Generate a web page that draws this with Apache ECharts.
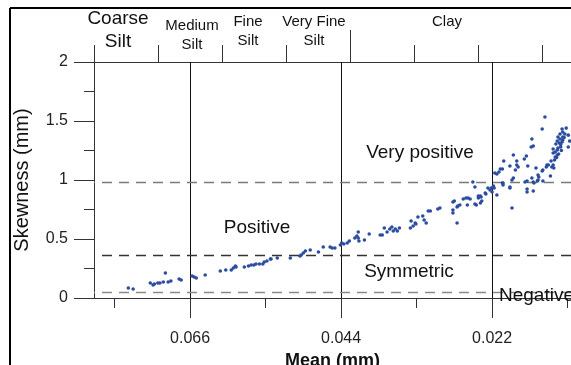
<!DOCTYPE html>
<html>
<head>
<meta charset="utf-8">
<script src="https://cdn.jsdelivr.net/npm/echarts@6/dist/echarts.min.js"></script>
<style>
html,body{margin:0;padding:0;background:#fff;}
#chart{width:571px;height:365px;}
</style>
</head>
<body>
<div id="chart"></div>
<script>
// ---- data ----
const sizeClasses = ['Coarse\nSilt', 'Medium\nSilt', 'Fine\nSilt', 'Very Fine\nSilt', 'Clay'];
const meanTicks = [0.022, 0.044, 0.066];
const meanMinorTicks = [0.011, 0.033, 0.055, 0.077];
const skewTicks = [0, 0.5, 1, 1.5, 2];
const skewBounds = [0.98, 0.36, 0.05];
const zoneNames = ['Very positive', 'Positive', 'Symmetric', 'Negative'];
const classBoundaryTicks = [0, 1, 2, 3, 4, 5, 6, 7];

const coarseSamples = [
  [0.0750,0.085],[0.0743,0.076],[0.0718,0.127],[0.0714,0.110],[0.0712,0.119],[0.0707,0.127],
  [0.0704,0.127],[0.0699,0.136],[0.0696,0.212],[0.0692,0.136],[0.0688,0.144],[0.0676,0.161],
  [0.0673,0.153],[0.0657,0.186],[0.0654,0.178],[0.0651,0.169],[0.0638,0.195],[0.0616,0.229],
  [0.0608,0.237],[0.0600,0.237],[0.0597,0.254],[0.0594,0.271],[0.0593,0.263]
];
const fineSamples = [
  [0.0581,0.263],[0.0575,0.271],[0.0571,0.280],[0.0567,0.280],[0.0564,0.288],[0.0559,0.288],
  [0.0554,0.288],[0.0552,0.305],[0.0548,0.314],[0.0543,0.331],[0.0542,0.331],[0.0533,0.339],
  [0.0514,0.339],[0.0500,0.356],[0.0498,0.364],[0.0495,0.381],[0.0492,0.398],[0.0485,0.407],
  [0.0473,0.390],[0.0466,0.432],[0.0456,0.432],[0.0453,0.424],[0.0449,0.424],[0.0441,0.449],
  [0.0439,0.466],[0.0436,0.458],[0.0431,0.466],[0.0428,0.483],[0.0420,0.508],[0.0417,0.525]
];
const claySamples = [
  [0.0415,0.559],[0.0415,0.508],[0.0414,0.483],[0.0406,0.492],[0.0399,0.542],[0.0383,0.534],
  [0.0380,0.534],[0.0377,0.593],[0.0373,0.559],[0.0369,0.585],[0.0366,0.602],[0.0364,0.568],
  [0.0361,0.585],[0.0358,0.568],[0.0355,0.593],[0.0339,0.593],[0.0338,0.653],[0.0335,0.610],
  [0.0332,0.636],[0.0331,0.627],[0.0328,0.686],[0.0321,0.695],[0.0319,0.661],[0.0316,0.636],
  [0.0313,0.737],[0.0310,0.737],[0.0299,0.754],[0.0296,0.763],[0.0277,0.814],[0.0277,0.746],
  [0.0277,0.720],[0.0271,0.636],[0.0275,0.822],[0.0271,0.771],[0.0270,0.780],[0.0267,0.788],
  [0.0262,0.839],[0.0258,0.847],[0.0256,0.788],[0.0255,0.847],[0.0252,0.839],[0.0248,0.983],
  [0.0245,0.941],[0.0245,0.797],[0.0243,0.788],[0.0240,0.864],[0.0240,0.847],[0.0237,0.864],
  [0.0237,0.805],[0.0236,0.856],[0.0235,0.822],[0.0230,0.890],[0.0229,0.881],[0.0226,0.932],
  [0.0223,0.915],[0.0221,0.932],[0.0220,0.898],[0.0218,0.949],[0.0217,0.932],[0.0213,0.873]
];
const finestSamples = [
  [0.0216,1.059],[0.0213,1.051],[0.0210,1.068],[0.0205,1.093],[0.0204,0.975],[0.0203,1.161],
  [0.0194,1.119],[0.0191,1.000],[0.0189,1.017],[0.0194,0.932],[0.0189,1.212],[0.0184,1.127],
  [0.0182,1.110],[0.0191,0.763],[0.0143,1.534],[0.0147,1.432],[0.0118,1.432],[0.0117,1.407],
  [0.0121,1.390],[0.0124,1.364],[0.0114,1.390],[0.0117,1.364],[0.0121,1.347],[0.0118,1.322],
  [0.0125,1.331],[0.0117,1.339],[0.0122,1.314],[0.0127,1.305],[0.0120,1.280],[0.0124,1.271],
  [0.0125,1.254],[0.0131,1.263],[0.0128,1.237],[0.0131,1.229],[0.0125,1.212],[0.0128,1.195],
  [0.0109,1.280],[0.0162,1.347],[0.0160,1.288],[0.0163,1.280],[0.0170,1.203],[0.0173,1.178],
  [0.0184,1.161],[0.0208,1.093],[0.0186,1.085],[0.0168,1.119],[0.0156,1.102],[0.0153,1.042],
  [0.0152,1.025],[0.0147,1.076],[0.0146,1.085],[0.0141,1.110],[0.0140,1.127],[0.0138,1.127],
  [0.0134,1.161],[0.0133,1.110],[0.0131,1.127],[0.0130,1.102],[0.0135,1.034],[0.0162,1.017],
  [0.0160,0.983],[0.0159,0.975],[0.0169,0.992],[0.0172,0.983],[0.0146,0.992],[0.0154,0.992],
  [0.0153,1.000],[0.0194,0.941],[0.0205,0.975],[0.0204,0.958],[0.0169,0.924],[0.0169,0.898],
  [0.0160,0.907],[0.0112,1.440],[0.0109,1.380],[0.0107,1.330],[0.0120,1.300],[0.0115,1.360],
  [0.0119,1.250],[0.0123,1.220],[0.0126,1.190],[0.0129,1.170]
];

// ---- chart ----
const FONT = '"Liberation Sans", Arial, sans-serif';
const chart = echarts.init(document.getElementById('chart'), null, {renderer: 'canvas'});
const allSamples = coarseSamples.concat(fineSamples, claySamples, finestSamples);

const headerPos = [
  {x: 118, y: 30.5, size: 19, lh: 23},
  {x: 192, y: 35.5, size: 15, lh: 19},
  {x: 248, y: 31.5, size: 15, lh: 19},
  {x: 314, y: 31.5, size: 15, lh: 19},
  {x: 447, y: 22, size: 15, lh: 19}
];
const zonePos = [
  {x: 420, y: 153, align: 'center'},
  {x: 257, y: 228, align: 'center'},
  {x: 409, y: 272, align: 'center'},
  {x: 499, y: 296, align: 'left'}
];
const boundStyles = ['#7a7a7a', '#333333', '#8a8a8a'];

const graphics = [
  {type: 'line', shape: {x1: 10, y1: 8, x2: 10, y2: 365}, style: {stroke: '#000', lineWidth: 2}, z: 100},
  {type: 'line', shape: {x1: 10, y1: 8, x2: 571, y2: 8}, style: {stroke: '#000', lineWidth: 2}, z: 100},
  {type: 'line', shape: {x1: 350.5, y1: 30, x2: 350.5, y2: 46}, style: {stroke: '#333', lineWidth: 1}, z: 100}
];
sizeClasses.forEach((name, i) => {
  const p = headerPos[i];
  graphics.push({type: 'text', x: p.x, y: p.y, z: 100,
    style: {text: name, font: p.size + 'px ' + FONT, fill: '#111', align: 'center', verticalAlign: 'middle', lineHeight: p.lh}});
});
zoneNames.forEach((name, i) => {
  const p = zonePos[i];
  graphics.push({type: 'text', x: p.x, y: p.y, z: 100,
    style: {text: name, font: '19px ' + FONT, fill: '#111', align: p.align, verticalAlign: 'middle'}});
});

const option = {
  animation: false,
  backgroundColor: '#fff',
  grid: {left: 94, right: 0, top: 62, bottom: 67, containLabel: false, outerBoundsMode: 'none'},
  xAxis: [
    {
      type: 'value', gridIndex: 0, position: 'bottom', inverse: true, min: 0.0105, max: 0.08,
      name: 'Mean (mm)', nameLocation: 'middle', nameGap: 52,
      nameTextStyle: {fontFamily: FONT, fontSize: 18, fontWeight: 'bold', color: '#111'},
      axisLine: {show: true, onZero: false, lineStyle: {color: '#333', width: 1}},
      axisTick: {show: true, length: 20, inside: false, customValues: meanTicks, lineStyle: {color: '#333'}},
      axisLabel: {show: true, customValues: meanTicks, margin: 33, fontFamily: FONT, fontSize: 16, color: '#222',
        formatter: v => v.toFixed(3)},
      splitLine: {show: false}
    },
    {
      type: 'value', gridIndex: 0, position: 'bottom', inverse: true, min: 0.0105, max: 0.08,
      axisLine: {show: false},
      axisTick: {show: true, length: 10, inside: false, customValues: meanMinorTicks, lineStyle: {color: '#333'}},
      axisLabel: {show: false},
      splitLine: {show: false}
    },
    {
      type: 'value', gridIndex: 0, position: 'top', min: 0, max: 7.45,
      axisLine: {show: true, onZero: false, lineStyle: {color: '#333', width: 1}},
      axisTick: {show: true, length: 17, inside: false, customValues: classBoundaryTicks, lineStyle: {color: '#333'}},
      axisLabel: {show: false},
      splitLine: {show: false}
    }
  ],
  yAxis: {
    type: 'value', min: 0, max: 2, interval: 0.5,
    name: 'Skewness (mm)', nameLocation: 'middle', nameGap: 62,
    nameTextStyle: {fontFamily: FONT, fontSize: 20, color: '#111'},
    axisLine: {show: true, onZero: false, lineStyle: {color: '#333', width: 1}},
    axisTick: {show: true, length: 20, inside: false, lineStyle: {color: '#333'}},
    minorTick: {show: true, splitNumber: 2, length: 10, lineStyle: {color: '#333'}},
    axisLabel: {margin: 26, fontFamily: FONT, fontSize: 16, color: '#222',
      formatter: v => (skewTicks.indexOf(v) >= 0 ? String(v) : '')},
    splitLine: {show: false}
  },
  graphic: graphics,
  series: [
    {
      type: 'scatter', xAxisIndex: 0, yAxisIndex: 0,
      data: allSamples,
      symbol: 'circle', symbolSize: 3.6,
      itemStyle: {color: '#2b4c9f', opacity: 1},
      z: 5,
      markLine: {
        silent: true, symbol: ['none', 'none'], label: {show: false},
        animation: false, precision: 4,
        data: meanTicks.map(v => ({xAxis: v, lineStyle: {color: '#111', type: 'solid', width: 1}}))
          .concat(skewBounds.map((v, i) => ({yAxis: v,
            lineStyle: {color: boundStyles[i], type: [10, 7], width: 1.3}})))
      }
    }
  ]
};
chart.setOption(option);
</script>
</body>
</html>
